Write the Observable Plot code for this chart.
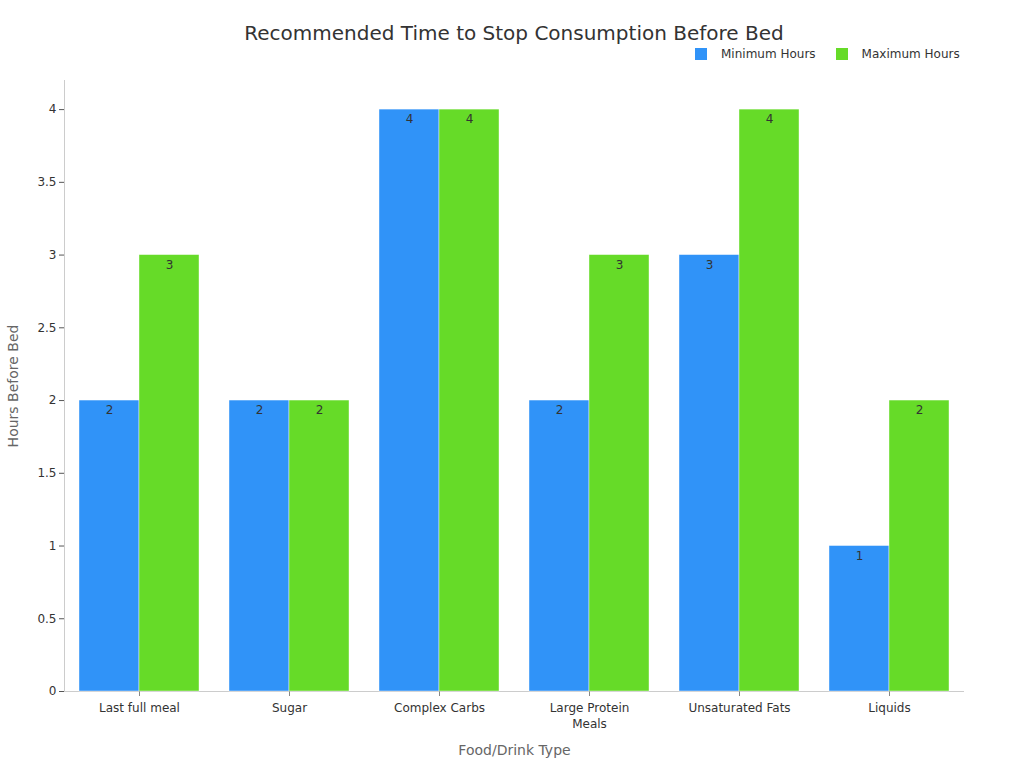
<!DOCTYPE html>
<html>
<head>
<meta charset="utf-8">
<script src="https://cdn.jsdelivr.net/npm/d3@7"></script>
<script src="https://cdn.jsdelivr.net/npm/@observablehq/plot@0.6"></script>
<style>
  html, body { margin: 0; padding: 0; background: #fff; }
  body { width: 1024px; height: 768px; position: relative; font-family: "DejaVu Sans", sans-serif; overflow: hidden; }
  #title { position: absolute; left: 2px; top: 21px; width: 1024px; text-align: center; font-size: 20px; color: #333; }
  #legend { position: absolute; left: 695px; top: 47px; font-size: 12px; color: #333; display: flex; align-items: center; }
  .sw { width: 12px; height: 12px; display: inline-block; margin-right: 14px; }
  .item { display: flex; align-items: center; margin-right: 20px; }
  #chart { position: absolute; left: 0; top: 0; }
</style>
</head>
<body>
<div id="chart"></div>
<div id="title">Recommended Time to Stop Consumption Before Bed</div>
<div id="legend"></div>
<script>
const categories = ["Last full meal", "Sugar", "Complex Carbs", "Large Protein Meals", "Unsaturated Fats", "Liquids"];
const tickLabels = ["Last full meal", "Sugar", "Complex Carbs", "Large Protein\nMeals", "Unsaturated Fats", "Liquids"];
const seriesNames = ["Minimum Hours", "Maximum Hours"];
const minHours = [2, 2, 4, 2, 3, 1];
const maxHours = [3, 2, 4, 3, 4, 2];
const colors = ["#3093f8", "#66db28"];

const data = [];
categories.forEach((c, i) => {
  data.push({cat: c, series: seriesNames[0], value: minHours[i]});
  data.push({cat: c, series: seriesNames[1], value: maxHours[i]});
});

const legend = document.getElementById("legend");
seriesNames.forEach((s, i) => {
  const it = document.createElement("div");
  it.className = "item";
  it.innerHTML = `<span class="sw" style="background:${colors[i]}"></span><span>${s}</span>`;
  legend.appendChild(it);
});

const chart = Plot.plot({
  width: 1024,
  height: 768,
  marginTop: 80,
  marginBottom: 77,
  marginLeft: 62,
  marginRight: 58,
  style: {fontFamily: "DejaVu Sans, sans-serif", fontSize: "12px", color: "#333", background: "transparent"},
  fx: {domain: categories, padding: 0},
  x: {domain: seriesNames, paddingInner: 0, paddingOuter: 0.25, axis: null},
  y: {domain: [0, 4.2], axis: null},
  color: {domain: seriesNames, range: colors},
  marks: [
    Plot.frame({anchor: "left", facetAnchor: "left", stroke: "#cccccc"}),
    Plot.ruleY([0], {stroke: "#cccccc"}),
    Plot.axisY({
      ticks: [0, 0.5, 1, 1.5, 2, 2.5, 3, 3.5, 4],
      tickFormat: d => String(d),
      tickSize: 5,
      tickPadding: 3,
      stroke: "#555",
      fontSize: 12,
      label: null
    }),
    Plot.axisY({
      ticks: [],
      label: "Hours Before Bed",
      labelAnchor: "center",
      labelArrow: "none",
      labelOffset: 56,
      fontSize: 14,
      color: "#666"
    }),
    Plot.axisFx({
      anchor: "bottom",
      tickSize: 5,
      tickPadding: 4,
      stroke: "#888",
      lineHeight: 1.35,
      tickFormat: d => tickLabels[categories.indexOf(d)],
      label: null
    }),
    Plot.axisFx({
      anchor: "bottom",
      ticks: [],
      label: "Food/Drink Type",
      labelAnchor: "center",
      labelArrow: "none",
      labelOffset: 63,
      fontSize: 14,
      color: "#666"
    }),
    Plot.barY(data, {fx: "cat", x: "series", y: "value", fill: "series", stroke: "#ffffff", strokeWidth: 0.6, strokeOpacity: 0.7}),
    Plot.text(data, {fx: "cat", x: "series", y: "value", text: d => String(d.value), dy: 10, fill: "#333", fontSize: 12})
  ]
});
document.getElementById("chart").appendChild(chart);
</script>
</body>
</html>
